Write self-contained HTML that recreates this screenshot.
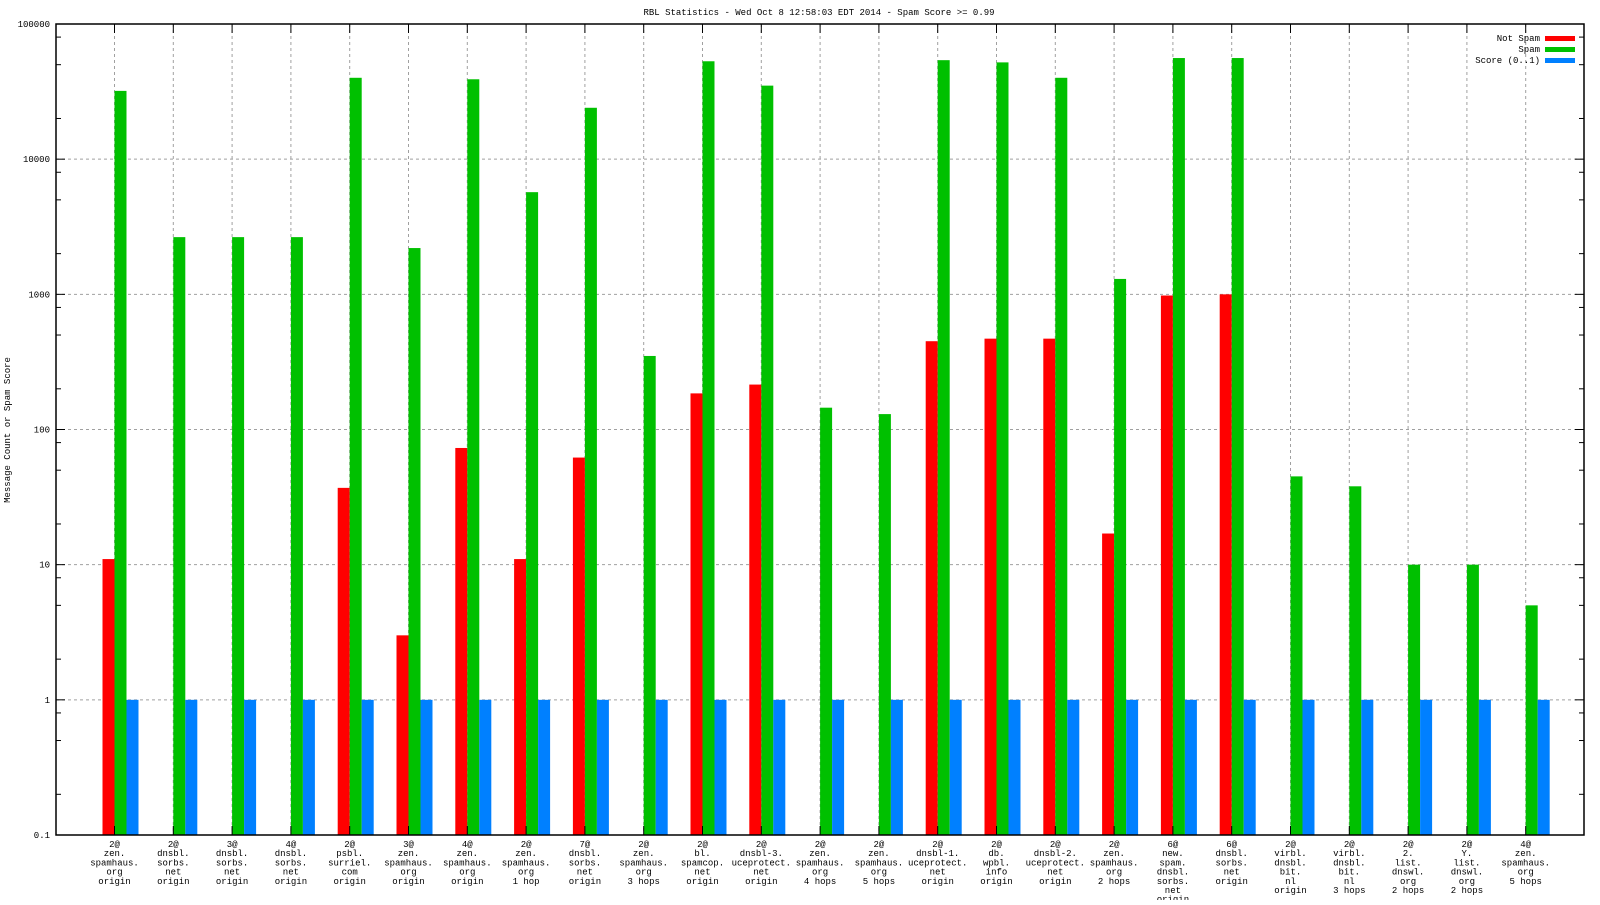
<!DOCTYPE html>
<html><head><meta charset="utf-8"><style>
html,body{margin:0;padding:0;background:#fff;}
svg text{font-family:"Liberation Mono",monospace;font-size:9px;fill:#000;}
</style></head><body>
<svg id="chart" width="1600" height="900" xmlns="http://www.w3.org/2000/svg">
<text x="819" y="15" text-anchor="middle">RBL Statistics - Wed Oct  8 12:58:03 EDT 2014 - Spam Score &gt;= 0.99</text>
<text transform="translate(10,430) rotate(-90)" text-anchor="middle">Message Count or Spam Score</text>
<g id="grid"></g><g id="bars"></g><g id="axes"></g><g id="labels"></g>
<g>
<text x="1540" y="41" text-anchor="end">Not Spam</text>
<rect x="1545" y="36" width="30" height="5" fill="#ff0000"/>
<text x="1540" y="52" text-anchor="end">Spam</text>
<rect x="1545" y="47" width="30" height="5" fill="#00c000"/>
<text x="1540" y="63" text-anchor="end">Score (0..1)</text>
<rect x="1545" y="58" width="30" height="5" fill="#0080ff"/>
</g>
</svg>
<script>
const categories=[
"2@|zen.|spamhaus.|org|origin","2@|dnsbl.|sorbs.|net|origin","3@|dnsbl.|sorbs.|net|origin","4@|dnsbl.|sorbs.|net|origin",
"2@|psbl.|surriel.|com|origin","3@|zen.|spamhaus.|org|origin","4@|zen.|spamhaus.|org|origin","2@|zen.|spamhaus.|org|1 hop",
"7@|dnsbl.|sorbs.|net|origin","2@|zen.|spamhaus.|org|3 hops","2@|bl.|spamcop.|net|origin","2@|dnsbl-3.|uceprotect.|net|origin",
"2@|zen.|spamhaus.|org|4 hops","2@|zen.|spamhaus.|org|5 hops","2@|dnsbl-1.|uceprotect.|net|origin","2@|db.|wpbl.|info|origin",
"2@|dnsbl-2.|uceprotect.|net|origin","2@|zen.|spamhaus.|org|2 hops","6@|new.|spam.|dnsbl.|sorbs.|net|origin","6@|dnsbl.|sorbs.|net|origin",
"2@|virbl.|dnsbl.|bit.|nl|origin","2@|virbl.|dnsbl.|bit.|nl|3 hops","2@|2.|list.|dnswl.|org|2 hops","2@|Y.|list.|dnswl.|org|2 hops","4@|zen.|spamhaus.|org|5 hops"];
const notSpam=[11,0,0,0,37,3,73,11,62,0,185,215,0,0,450,470,470,17,980,1000,0,0,0,0,0];
const spam=[32000,2650,2650,2650,40000,2200,39000,5700,24000,350,53000,35000,145,130,54000,52000,40000,1300,56000,56000,45,38,10,10,5];
const score=[1,1,1,1,1,1,1,1,1,1,1,1,1,1,1,1,1,1,1,1,1,1,1,1,1];
const yTickLabels=["0.1","1","10","100","1000","10000","100000"];
const yTickValues=[0.1,1,10,100,1000,10000,100000];

const L=56,R=1584,T=24,B=835;
const y=v=>T+(5-Math.log10(v))*(B-T)/6;
const x=i=>114.5+i*58.8;
const NS="http://www.w3.org/2000/svg";
function mk(tag,attrs,parent){const e=document.createElementNS(NS,tag);for(const k in attrs)e.setAttribute(k,attrs[k]);document.getElementById(parent).appendChild(e);return e;}
yTickValues.forEach((v,j)=>{
 if(j>0&&j<6){const g=mk('line',{x1:L,x2:R,y1:y(v),y2:y(v),stroke:'#a0a0a0','stroke-dasharray':'3,3'},'grid');
 
 }
 const t=mk('text',{x:L-6,y:y(v)+3,'text-anchor':'end'},'axes');t.textContent=yTickLabels[j];
 
 
 mk('line',{x1:L,x2:L+9,y1:y(v),y2:y(v),stroke:'#000'},'axes');
 mk('line',{x1:R,x2:R-9,y1:y(v),y2:y(v),stroke:'#000'},'axes');
 if(j<6){[2,5,8].forEach(m=>{const mv=v*m;mk('line',{x1:L,x2:L+5,y1:y(mv),y2:y(mv),stroke:'#000'},'axes');mk('line',{x1:R,x2:R-5,y1:y(mv),y2:y(mv),stroke:'#000'},'axes');});}
});
categories.forEach((c,i)=>{
 const xi=x(i);
 const g=mk('line',{x1:xi,x2:xi,y1:T,y2:B,stroke:'#a0a0a0','stroke-dasharray':'3,3'},'grid');
 
 
 mk('line',{x1:xi,x2:xi,y1:T,y2:T+9,stroke:'#000'},'axes');
 mk('line',{x1:xi,x2:xi,y1:B,y2:B-9,stroke:'#000'},'axes');
 const series=[[notSpam,'#ff0000','bar-not-spam'],[spam,'#00c000','bar-spam'],[score,'#0080ff','bar-score']];
 series.forEach((s,k)=>{const v=s[0][i];if(v>0){const top=y(v);
  const r=mk('rect',{x:xi-12+12*k,y:top,width:12,height:B-top,fill:s[1]},'bars');
  
  }});
 const t=mk('text',{x:xi,y:B+12,'text-anchor':'middle'},'labels');
 
 
 c.split('|').forEach((ln,n)=>{const ts=document.createElementNS(NS,'tspan');ts.setAttribute('x',xi);ts.setAttribute('dy',n?9.2:0);ts.textContent=ln;t.appendChild(ts);});
});
const f=mk('rect',{x:L,y:T,width:R-L,height:B-T,fill:'none',stroke:'#000','stroke-width':1.5},'axes');


</script>
</body></html>
